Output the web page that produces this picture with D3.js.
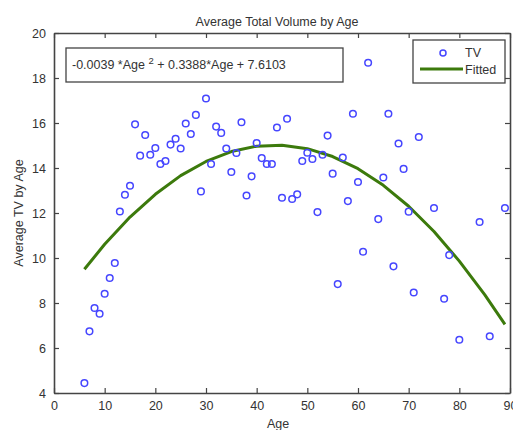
<!DOCTYPE html>
<html>
<head>
<meta charset="utf-8">
<script src="https://cdn.jsdelivr.net/npm/d3@7"></script>
<style>
  html, body { margin: 0; padding: 0; background: #fff; }
  svg { display: block; }
  text { font-family: "Liberation Sans", Arial, sans-serif; fill: #333; }
</style>
</head>
<body>
<svg id="chart" width="513" height="430"></svg>
<script>
// ---- data ----
const ages = [6,7,8,9,10,11,12,13,14,15,16,17,18,19,20,21,22,23,24,25,26,27,28,29,30,31,32,33,34,35,36,37,38,39,40,41,42,43,44,45,46,47,48,49,50,51,52,53,54,55,56,57,58,59,60,61,62,64,65,66,67,68,69,70,71,72,75,77,78,80,84,86,89];
const tv = [4.44,6.74,7.78,7.52,8.41,9.11,9.78,12.07,12.81,13.21,15.94,14.55,15.47,14.59,14.89,14.18,14.31,15.04,15.30,14.87,15.98,15.51,16.36,12.96,17.09,14.18,15.84,15.56,14.87,13.82,14.67,16.03,12.78,13.63,15.11,14.44,14.18,14.18,15.80,12.68,16.19,12.62,12.83,14.31,14.68,14.40,12.04,14.59,15.44,13.75,8.84,14.47,12.53,16.41,13.38,10.28,18.68,11.73,13.58,16.41,9.63,15.09,13.96,12.06,8.47,15.38,12.22,8.19,10.13,6.37,11.60,6.52,12.22];
const fitAges = [6,10,15,20,25,30,35,40,45,50,55,60,65,70,75,80,85,89];
const fitted = [9.50,10.61,11.82,12.83,13.66,14.29,14.73,14.97,15.01,14.86,14.51,13.97,13.23,12.30,11.18,9.86,8.37,7.05];
const xTicks = [0,10,20,30,40,50,60,70,80,90];
const yTicks = [4,6,8,10,12,14,16,18,20];
const title = "Average Total Volume by Age";
const xLabel = "Age";
const yLabel = "Average TV by Age";
const legendLabels = ["TV", "Fitted"];

// ---- layout ----
const svg = d3.select("#chart");
const L = 54, R = 510, T = 33, B = 393;
const x = d3.scaleLinear().domain([0, 90]).range([L, R]);
const y = d3.scaleLinear().domain([4, 20]).range([B, T]);
const axisColor = "#444";
const blue = "#4646ff";
const green = "#3c7a0c";
const fs = 12.5;

// axes
const gx = svg.append("g").attr("transform", `translate(0,${B})`)
  .call(d3.axisBottom(x).tickValues(xTicks).tickSizeInner(-5).tickSizeOuter(0).tickPadding(8));
const gxTop = svg.append("g").attr("transform", `translate(0,${T})`)
  .call(d3.axisTop(x).tickValues(xTicks).tickSizeInner(-5).tickSizeOuter(0).tickFormat(""));
const gy = svg.append("g").attr("transform", `translate(${L},0)`)
  .call(d3.axisLeft(y).tickValues(yTicks).tickSizeInner(-5).tickSizeOuter(0).tickPadding(8));
const gyR = svg.append("g").attr("transform", `translate(${R},0)`)
  .call(d3.axisRight(y).tickValues(yTicks).tickSizeInner(-5).tickSizeOuter(0).tickFormat(""));
[gx, gxTop, gy, gyR].forEach(g => {
  g.select(".domain").attr("stroke", axisColor).attr("stroke-width", 1.6);
  g.selectAll(".tick line").attr("stroke", axisColor).attr("stroke-width", 1.2);
  g.selectAll(".tick text").attr("font-size", fs).attr("fill", "#333")
    .style("font-family", "'Liberation Sans', Arial, sans-serif");
});

// fitted line
const line = d3.line().x((d, i) => x(fitAges[i])).y(d => y(d));
svg.append("path").datum(fitted)
  .attr("d", line).attr("fill", "none").attr("stroke", green)
  .attr("stroke-width", 3).attr("stroke-linejoin", "round");

// points
svg.append("g").selectAll("circle").data(tv).join("circle")
  .attr("cx", (d, i) => x(ages[i])).attr("cy", d => y(d)).attr("r", 3.3)
  .attr("fill", "none").attr("stroke", blue).attr("stroke-width", 1.5);

// title and labels
svg.append("text").attr("x", 277).attr("y", 26).attr("text-anchor", "middle")
  .attr("font-size", fs).text(title);
svg.append("text").attr("x", 278).attr("y", 428).attr("text-anchor", "middle")
  .attr("font-size", fs).text(xLabel);
svg.append("text").attr("transform", `translate(23,${(T + B) / 2}) rotate(-90)`)
  .attr("text-anchor", "middle").attr("font-size", fs).text(yLabel);

// equation box
svg.append("rect").attr("x", 66).attr("y", 48).attr("width", 277).attr("height", 34)
  .attr("fill", "#fff").attr("stroke", axisColor).attr("stroke-width", 1.3);
const eq = svg.append("text").attr("x", 72).attr("y", 69).attr("font-size", fs);
eq.append("tspan").text("-0.0039 *Age ");
eq.append("tspan").attr("dy", -5).attr("font-size", 9.5).text("2");
eq.append("tspan").attr("dy", 5).text(" + 0.3388*Age + 7.6103");

// legend
svg.append("rect").attr("x", 413).attr("y", 40).attr("width", 92).attr("height", 43)
  .attr("fill", "#fff").attr("stroke", axisColor).attr("stroke-width", 1.3);
svg.append("circle").attr("cx", 443).attr("cy", 53).attr("r", 3)
  .attr("fill", "none").attr("stroke", blue).attr("stroke-width", 1.5);
svg.append("line").attr("x1", 420).attr("x2", 463).attr("y1", 69).attr("y2", 69)
  .attr("stroke", green).attr("stroke-width", 3);
svg.append("text").attr("x", 465).attr("y", 57).attr("font-size", fs).text(legendLabels[0]);
svg.append("text").attr("x", 465).attr("y", 74).attr("font-size", fs).text(legendLabels[1]);
</script>
</body>
</html>
